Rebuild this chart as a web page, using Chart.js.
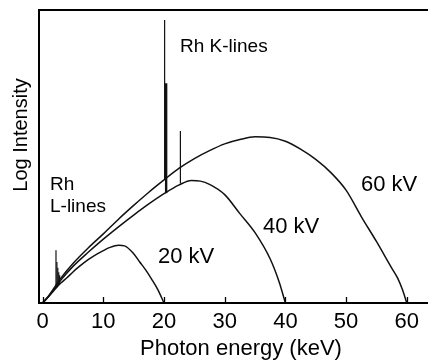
<!DOCTYPE html>
<html>
<head>
<meta charset="utf-8">
<script src="https://cdn.jsdelivr.net/npm/chart.js@4.4.1/dist/chart.umd.min.js"></script>
<style>
html,body{margin:0;padding:0;background:#fff;}
#wrap{width:428px;height:360px;}
</style>
</head>
<body>
<div id="wrap"><canvas id="c" width="428" height="360"></canvas></div>
<script>
// ---- data ----
const xTicks = [0, 10, 20, 30, 40, 50, 60];

const energy60 = [0,1,2,3,5,7.5,10,12.5,15,17.5,20,22.5,25,27.5,30,32.5,35,37.5,40,42.5,45,47.5,50,52.5,55,57.5,58.5,59.3,60];
const intensity60 = [0,2.5,5.5,8.5,13.5,18.8,23.6,28.6,33.3,37.8,42,46,49.3,52,54.3,55.8,56.7,56.5,55.2,52.5,49,44.5,38.5,29.5,21,12,8.5,4.5,0];

const energy40 = [0,1,2,3,5,7.5,10,12.5,15,17.5,20,22.5,24.5,26,27.5,30,32.5,35,37.5,39,40];
const intensity40 = [0,2.3,5,7.8,12.5,17.3,21.8,26,30,33.8,37.3,40.3,41.8,41.6,40.5,37,30.5,24,15,7,0];

const energy20 = [0,1,2,3,4,5,6,7.5,9,10,11,12.5,13.5,15,16,17,18,19,20];
const intensity20 = [0,2.2,4.6,6.8,8.6,10.6,12.4,14.8,16.8,17.9,18.9,19.7,19.5,16.8,14,11.2,8,4.5,0];

// characteristic lines: energy, base intensity, peak intensity
const lineEnergy = [2.2, 2.35, 2.5, 2.65, 2.8, 20.1, 20.35, 22.7];
const lineBase   = [5.0, 5.4, 5.8, 6.2, 6.6, 42, 37.5, 40.8];
const lineTop    = [18, 14, 12, 10.5, 9.5, 96.6, 75, 58.7];
const lineWidthPx = [1.2, 1.2, 1.2, 1.2, 1.2, 1.2, 2.4, 1.2];

const labels = [
  {text:'Rh K-lines', x:180, y:52, size:19},
  {text:'Rh', x:50, y:190, size:19},
  {text:'L-lines', x:50, y:212, size:19},
  {text:'20 kV', x:158, y:263, size:22},
  {text:'40 kV', x:263, y:233, size:22},
  {text:'60 kV', x:361, y:191, size:22}
];
const xTitle = 'Photon energy (keV)';
const yTitle = 'Log Intensity';

const FONT = "'Liberation Sans', Arial, Helvetica, sans-serif";

function pts(xs, ys){ return xs.map((x,i)=>({x:x, y:ys[i]})); }

const curveStyle = {borderColor:'#111', borderWidth:1.5, pointRadius:0, fill:false, cubicInterpolationMode:'monotone'};
const datasets = [
  Object.assign({label:'60 kV', data:pts(energy60,intensity60)}, curveStyle),
  Object.assign({label:'40 kV', data:pts(energy40,intensity40)}, curveStyle),
  Object.assign({label:'20 kV', data:pts(energy20,intensity20)}, curveStyle)
];
lineEnergy.forEach((e,i)=>{
  datasets.push({label:'line'+i, data:[{x:e,y:lineBase[i]},{x:e,y:lineTop[i]}],
    borderColor:'#111', borderWidth:lineWidthPx[i], pointRadius:0, fill:false, tension:0});
});

const frame = {
  id:'frame',
  afterDraw(chart){
    const ctx = chart.ctx, a = chart.chartArea, xs = chart.scales.x;
    ctx.save();
    ctx.strokeStyle = '#000';
    ctx.lineWidth = 2;
    ctx.beginPath();
    ctx.moveTo(a.right, a.top); ctx.lineTo(a.left, a.top); ctx.lineTo(a.left, a.bottom); ctx.lineTo(a.right, a.bottom);
    ctx.stroke();
    ctx.lineWidth = 1.3;
    xTicks.forEach(v=>{
      const px = Math.round(xs.getPixelForValue(v)) + 0.5;
      ctx.beginPath(); ctx.moveTo(px, a.bottom); ctx.lineTo(px, a.bottom - 6); ctx.stroke();
    });
    ctx.fillStyle = '#000';
    ctx.textBaseline = 'alphabetic';
    ctx.textAlign = 'left';
    labels.forEach(l=>{ ctx.font = l.size + 'px ' + FONT; ctx.fillText(l.text, l.x, l.y); });
    ctx.font = '22px ' + FONT;
    ctx.textAlign = 'center';
    ctx.fillText(xTitle, 241, 355);
    ctx.font = '20px ' + FONT;
    ctx.translate(27, 135);
    ctx.rotate(-Math.PI/2);
    ctx.fillText(yTitle, 0, 0);
    ctx.restore();
  }
};

new Chart(document.getElementById('c'), {
  type:'line',
  data:{datasets:datasets},
  options:{
    responsive:false, animation:false, devicePixelRatio:1,
    layout:{padding:{top:10, right:0, bottom:0, left:0}},
    plugins:{legend:{display:false}, tooltip:{enabled:false}},
    scales:{
      x:{type:'linear', min:-0.6, max:63.5,
        grid:{display:false, drawTicks:false}, border:{display:false},
        afterBuildTicks:(s)=>{ s.ticks = xTicks.map(v=>({value:v})); },
        afterFit:(s)=>{ s.height = 57; },
        ticks:{color:'#000', font:{family:FONT, size:22}, padding:6, maxRotation:0, autoSkip:false}
      },
      y:{type:'linear', min:0, max:100,
        grid:{display:false, drawTicks:false}, border:{display:false},
        ticks:{display:false},
        afterFit:(s)=>{ s.width = 39; }
      }
    }
  },
  plugins:[frame]
});
</script>
</body>
</html>
